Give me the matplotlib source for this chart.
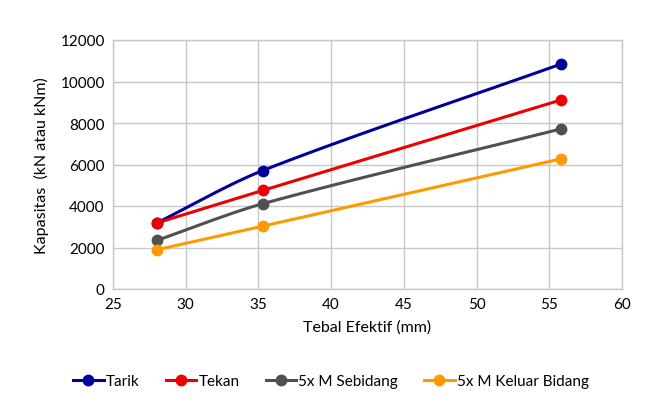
import numpy as np
import matplotlib
matplotlib.use("Agg")
import matplotlib.pyplot as plt
from matplotlib.lines import Line2D

plt.rcParams['font.family'] = ['Lato', 'DejaVu Sans']

x = [28.0, 35.3, 55.8]
tarik = [3180, 5710, 10840]
tekan = [3180, 4750, 9110]
sebidang = [2340, 4110, 7715]
keluar = [1890, 3030, 6270]

series_names = ["Tarik", "Tekan", "5x M Sebidang", "5x M Keluar Bidang"]
series_vals = [tarik, tekan, sebidang, keluar]
colors = ["#000099", "#EE0000", "#505050", "#FF9900"]

xticks = [25, 30, 35, 40, 45, 50, 55, 60]
yticks = [0, 2000, 4000, 6000, 8000, 10000, 12000]

SX = 509 / 35.0
SY = 249 / 12000.0


def smooth(xs, ys, n=40, k=0.3):
    P = np.column_stack([np.asarray(xs) * SX, np.asarray(ys) * SY]).astype(float)
    m = len(P)
    tang = []
    for i in range(m):
        a = P[i - 1] if i > 0 else P[i]
        b = P[i + 1] if i < m - 1 else P[i]
        d = b - a
        tang.append(d / np.linalg.norm(d))
    out = [P[0]]
    for i in range(m - 1):
        p1, p2 = P[i], P[i + 1]
        L = np.linalg.norm(p2 - p1)
        c1 = p1 + tang[i] * L * k
        c2 = p2 - tang[i + 1] * L * k
        t = np.linspace(0, 1, n)[1:, None]
        seg = ((1 - t) ** 3) * p1 + 3 * ((1 - t) ** 2) * t * c1 + 3 * (1 - t) * t ** 2 * c2 + t ** 3 * p2
        out.extend(seg)
    out = np.array(out)
    return out[:, 0] / SX, out[:, 1] / SY


fig = plt.figure(figsize=(6.62, 4.10), dpi=100)
ax = fig.add_axes([113 / 662, 1 - 290 / 410, 509 / 662, 249 / 410])

for name, vals, c in zip(series_names, series_vals, colors):
    sx, sy = smooth(x, vals)
    ax.plot(sx, sy, color=c, lw=2.2, zorder=3)
    ax.plot(x, vals, 'o', color=c, ms=7.5, zorder=4)

ax.set_xlim(25, 60)
ax.set_ylim(0, 12000)
ax.set_xticks(xticks)
ax.set_yticks(yticks)
ax.grid(True, color="#C8C8C8", lw=1.0)
ax.set_axisbelow(True)
for s in ax.spines.values():
    s.set_color("#C8C8C8")
    s.set_linewidth(1.0)
ax.tick_params(length=0, labelsize=11, colors="#000000", pad=6)
ax.set_xlabel("Tebal Efektif (mm)", fontsize=11.5, labelpad=6)
ax.set_ylabel("Kapasitas  (kN atau kNm)", fontsize=11.5, labelpad=8)

handles = [Line2D([0], [0], color=c, lw=2.2, marker='o', ms=7.5) for c in colors]
fig.legend(handles, series_names, loc="center", bbox_to_anchor=(0.5, 1 - 382 / 410),
           ncol=4, frameon=False, fontsize=11, handlelength=2.0, handletextpad=0.15,
           columnspacing=1.7)

fig.savefig("out.png", dpi=100)
